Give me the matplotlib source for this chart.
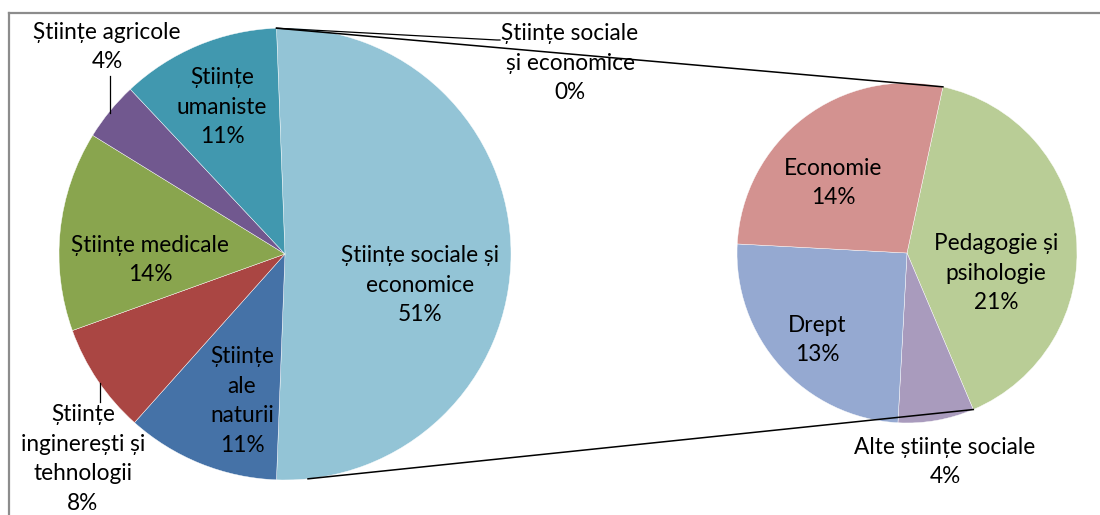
# pie of pie: distributia pe domenii de stiinta
import numpy as np
import matplotlib
matplotlib.use('Agg')
import matplotlib.pyplot as plt

plt.rcParams['font.family'] = ['Lato', 'DejaVu Sans']

# main pie, clockwise from the top
main_names = ['Științe sociale\nși economice', 'Științe sociale și\neconomice',
              'Științe\nale\nnaturii', 'Științe\ninginerești și\ntehnologii',
              'Științe medicale', 'Științe agricole', 'Științe\numaniste']
main_values = [0.0, 51.2, 11.0, 7.9, 14.3, 4.2, 11.4]
main_colors = ['#93C4D6', '#93C4D6', '#4572A7', '#AA4643', '#89A54E', '#71588F', '#4198AF']

# second pie (breakdown of the social sciences slice), clockwise
sec_names = ['Pedagogie și\npsihologie', 'Alte științe sociale', 'Drept', 'Economie']
sec_values = [20.6, 3.7, 12.8, 14.1]
sec_colors = ['#B9CD96', '#A99BBD', '#95A9D1', '#D39290']

H = 515
main_c = (285, H - 254)
main_r = 226
sec_c = (907, H - 253)
sec_r = 170

fig = plt.figure(figsize=(11, 5.15), dpi=100)
ax = fig.add_axes([0, 0, 1, 1])

total = sum(main_values)
start_main = main_values[1] / total * 180
wm, _ = ax.pie(main_values, colors=main_colors, startangle=start_main, counterclock=False,
               center=main_c, radius=main_r, normalize=True,
               wedgeprops=dict(edgecolor='white', linewidth=0.3))
ws, _ = ax.pie(sec_values, colors=sec_colors, startangle=77.8, counterclock=False,
               center=sec_c, radius=sec_r, normalize=True,
               wedgeprops=dict(edgecolor='white', linewidth=0.3))

def edge(c, r, ang):
    a = np.deg2rad(ang)
    return c[0] + r * np.cos(a), c[1] + r * np.sin(a)

# connector lines between the two pies
p1 = edge(main_c, main_r, wm[1].theta2)
q1 = edge(sec_c, sec_r, ws[0].theta2)
p2 = edge(main_c, main_r, wm[1].theta1 + 8)
q2 = edge(sec_c, sec_r, ws[0].theta1)
ax.plot([p1[0], q1[0]], [p1[1], q1[1]], color='black', lw=1.1)
ax.plot([p2[0], q2[0]], [p2[1], q2[1]], color='black', lw=1.1)

# data labels
main_pos = [(570, 63), (420, 285), (242, 401), (83, 459), (150, 260), (107, 47), (222, 107)]
sec_pos = [(996, 273), (945, 462), (817, 340), (833, 183)]

style = dict(ha='center', va='center', fontsize=16.3, linespacing=1.5, color='black')
for name, v, (x, y) in zip(main_names, main_values, main_pos):
    ax.text(x, H - y, f'{name}\n{v / total * 100:.0f}%', **style)
for name, v, (x, y) in zip(sec_names, sec_values, sec_pos):
    ax.text(x, H - y, f'{name}\n{v / total * 100:.0f}%', **style)

# leader lines
ax.plot([p1[0], 497, 500], [p1[1], H - 40, H - 40], color='black', lw=0.9)
ax.plot([110, 110], [H - 76, H - 113], color='black', lw=0.9)
ax.plot([100, 100], [H - 383, H - 402], color='black', lw=0.9)

# chart frame
ax.plot([9, 1100], [H - 13, H - 13], color='#8c8c8c', lw=1.6)
ax.plot([9, 9], [H - 13, 0], color='#8c8c8c', lw=1.6)

ax.set_xlim(0, 1100)
ax.set_ylim(0, H)
ax.set_aspect('auto')
ax.axis('off')

fig.savefig('out.png', dpi=100, facecolor='white')
